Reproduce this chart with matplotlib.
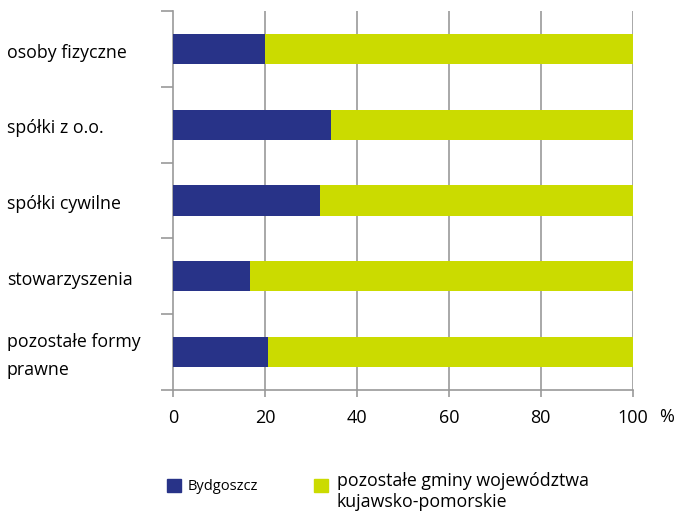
import numpy as np
import matplotlib.pyplot as plt
import matplotlib.transforms as mtransforms

plt.rcParams['font.family'] = ['Open Sans', 'DejaVu Sans']

categories = ['osoby fizyczne', 'spółki z o.o.', 'spółki cywilne', 'stowarzyszenia',
              'pozostałe formy\nprawne']
bydgoszcz = [20.0, 34.3, 32.0, 16.8, 20.7]
pozostale = [100 - v for v in bydgoszcz]
series_names = ['Bydgoszcz', 'pozostałe gminy województwa\nkujawsko-pomorskie']
xticks = [0, 20, 40, 60, 80, 100]

navy = '#283388'
lime = '#cbdb00'
grey = '#999999'

fig = plt.figure(figsize=(6.76, 5.13), dpi=100)
ax = fig.add_axes([0.256, 0.2398, 0.680, 0.7388])

y = np.arange(len(categories))
ax.barh(y, bydgoszcz, height=0.4, color=navy, edgecolor='none', zorder=3)
ax.barh(y, pozostale, left=bydgoszcz, height=0.4, color=lime, edgecolor='none', zorder=3)

ax.set_xlim(0, 100)
ax.set_ylim(len(categories) - 0.5, -0.5)

# vertical grid lines
for xt in xticks[1:]:
    ax.axvline(xt, color=grey, lw=1.2, zorder=1)

for s in ['top', 'right']:
    ax.spines[s].set_visible(False)
for s in ['left', 'bottom']:
    ax.spines[s].set_color(grey)
    ax.spines[s].set_linewidth(1.2)

ax.set_xticks(xticks)
ax.set_xticklabels([str(v) for v in xticks], fontsize=13)
ax.tick_params(axis='x', length=5, width=1.2, color=grey, pad=9)

ax.set_yticks(np.arange(len(categories) + 1) - 0.5)
ax.set_yticklabels([])
ax.tick_params(axis='y', length=9, width=1.2, color=grey)

# category labels, left aligned at figure edge
trans = mtransforms.blended_transform_factory(fig.transFigure, ax.transData)
for yi, lab in zip(y, categories):
    ax.text(7 / 676, yi + 0.05, lab, transform=trans, ha='left', va='center',
            fontsize=12.8, linespacing=1.7)

ax.text(1.0 + 34 / 460, -27 / 379, '%', transform=ax.transAxes, ha='center',
        va='center', fontsize=13)

# legend
fig.patches.append(plt.Rectangle((167 / 676, 1 - 492 / 513), 14 / 676, 13 / 513,
                                 transform=fig.transFigure, color=navy))
fig.text(188 / 676, 1 - 486 / 513, series_names[0], ha='left', va='center', fontsize=10.5)
fig.patches.append(plt.Rectangle((314 / 676, 1 - 492 / 513), 14 / 676, 13 / 513,
                                 transform=fig.transFigure, color=lime))
fig.text(337 / 676, 1 - 472 / 513, series_names[1], ha='left', va='top', fontsize=12.8,
         linespacing=1.2)

fig.savefig('out.png', dpi=100)
